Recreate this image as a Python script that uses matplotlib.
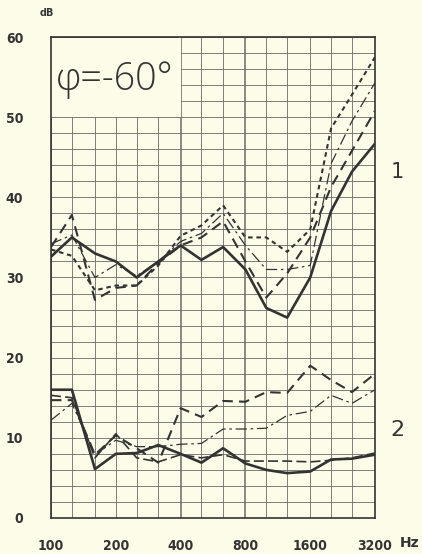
import matplotlib
matplotlib.use("Agg")
import matplotlib.pyplot as plt
from matplotlib.patches import Rectangle

# third-octave band centres (last one drawn at the 3200 edge)
freqs = [100, 125, 160, 200, 250, 315, 400, 500, 630, 800,
         1000, 1250, 1600, 2000, 2500, 3200]
xtick_vals = [100, 200, 400, 800, 1600, 3200]
xtick_labels = ["100", "200", "400", "800", "1600", "3200"]
ytick_vals = [0, 10, 20, 30, 40, 50, 60]

# group 1 (upper curves)
g1_solid = [32.6, 35.0, 33.0, 32.0, 30.0, 32.0, 34.0, 32.2, 33.8, 31.0,
            26.2, 25.0, 30.0, 38.3, 43.2, 46.7]
g1_dotted = [33.5, 32.7, 28.4, 29.0, 29.0, 31.5, 35.2, 36.5, 39.0, 35.0,
             35.0, 33.2, 36.0, 48.6, 52.8, 57.5]
g1_dashdot = [34.2, 35.3, 30.0, 31.6, 30.2, 32.0, 34.5, 35.5, 38.0, 34.0,
              31.0, 31.0, 31.5, 44.2, 49.5, 54.3]
g1_dashed = [33.8, 37.8, 27.2, 28.7, 29.0, 31.8, 34.0, 35.0, 37.0, 32.0,
             27.5, 30.5, 35.0, 41.3, 45.8, 50.8]

# group 2 (lower curves)
g2_solid = [16.0, 16.0, 6.1, 8.0, 8.1, 9.1, 8.0, 6.9, 8.7, 6.8,
            6.0, 5.6, 5.8, 7.3, 7.4, 7.9]
g2_dashed = [14.7, 14.7, 7.9, 10.3, 8.7, 6.9, 13.7, 12.6, 14.6, 14.5,
             15.7, 15.6, 19.0, 17.2, 15.7, 18.0]
g2_dashdot = [12.2, 14.3, 7.9, 9.7, 8.9, 8.9, 9.2, 9.3, 11.1, 11.1,
              11.2, 12.8, 13.3, 15.3, 14.3, 16.0]
g2_longdash = [15.3, 15.0, 7.5, 10.5, 7.5, 7.0, 7.9, 7.5, 7.9, 7.1,
               7.1, 7.1, 7.0, 7.2, 7.5, 8.1]

bg = "#fcfce8"
ink = "#333333"
grid_c = "#6a6a6a"

fig = plt.figure(figsize=(4.22, 5.54), dpi=100, facecolor=bg)
ax = fig.add_axes([0.1209, 0.065, 0.7678, 0.8682], facecolor=bg)
ax.set_xscale("log")
ax.set_xlim(100, 3200)
ax.set_ylim(0, 60)

# graph-paper grid
for f in freqs:
    lw = 1.1 if f in (400, 800) else 0.6
    ax.axvline(f, color=grid_c, lw=lw, zorder=1)
for y in range(0, 61, 2):
    ax.axhline(y, color=grid_c, lw=0.6, zorder=1)

# blank label box in the top-left corner
ax.add_patch(Rectangle((100, 50), 400 - 100, 10, facecolor=bg,
                       edgecolor="none", zorder=2))
ax.plot([100, 390], [60, 60], color=ink, lw=1.2, zorder=3)
ax.text(198, 54.7, "φ=-60°", fontsize=27,
        family=["Open Sans", "DejaVu Sans"], fontweight="light",
        color=ink, ha="center", va="center", zorder=4)

styles = {
    "solid": dict(ls="-", lw=1.9),
    "dotted": dict(ls=(0, (2.2, 1.8)), lw=1.5),
    "dashdot": dict(ls=(0, (9, 3, 2, 3)), lw=0.9),
    "dashed": dict(ls=(0, (5, 3)), lw=1.5),
}
ax.plot(freqs, g1_solid, color=ink, zorder=5, **styles["solid"])
ax.plot(freqs, g1_dotted, color=ink, zorder=5, **styles["dotted"])
ax.plot(freqs, g1_dashdot, color=ink, zorder=5, **styles["dashdot"])
ax.plot(freqs, g1_dashed, color=ink, zorder=5, **styles["dashed"])
ax.plot(freqs, g2_solid, color=ink, zorder=5, **styles["solid"])
ax.plot(freqs, g2_dashed, color=ink, zorder=5, **styles["dashed"])
ax.plot(freqs, g2_dashdot, color=ink, zorder=5, **styles["dashdot"])
ax.plot(freqs, g2_longdash, color=ink, zorder=5, ls=(0, (6, 2.5)), lw=1.2)

for side in ax.spines.values():
    side.set_color(ink)
    side.set_linewidth(1.2)
    side.set_zorder(6)

ax.set_xticks(xtick_vals)
ax.set_xticklabels(xtick_labels)
ax.xaxis.set_minor_locator(matplotlib.ticker.NullLocator())
ax.set_yticks(ytick_vals)
ax.tick_params(length=0)
ax.tick_params(axis="x", pad=15)
ax.tick_params(axis="y", pad=20)
for lab in ax.get_xticklabels() + ax.get_yticklabels():
    lab.set_fontweight("bold")
    lab.set_fontsize(10)
    lab.set_color(ink)
    lab.set_fontstretch("condensed")

fig.text(47 / 422, 1 - 13 / 554, "dB", fontsize=7, fontweight="bold",
         color=ink, ha="center", va="center")
fig.text(410 / 422, 1 - 543 / 554, "Hz", fontsize=10, fontweight="bold",
         color=ink, ha="center", va="center")
fig.text(397 / 422, 1 - 172 / 554, "1", fontsize=15, color=ink,
         ha="center", va="center")
fig.text(397 / 422, 1 - 430 / 554, "2", fontsize=16, color=ink,
         ha="center", va="center")

fig.savefig("out.png", dpi=100, facecolor=bg)
